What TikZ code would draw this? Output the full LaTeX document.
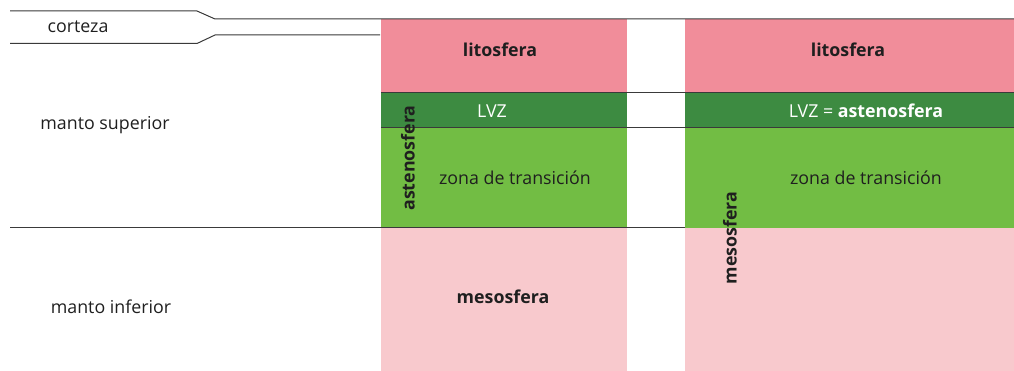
\documentclass[tikz,border=0pt]{standalone}
\usepackage{fontspec}
\setmainfont{Open Sans}
\definecolor{lito}{HTML}{F18D9A}
\definecolor{lvz}{HTML}{3D8B41}
\definecolor{trans}{HTML}{72BD44}
\definecolor{meso}{HTML}{F8C9CD}
\definecolor{ln}{HTML}{3A3A3A}
\begin{document}
\begin{tikzpicture}[x=1pt,y=-1pt,
  lbl/.style={inner sep=0pt,text=black!88,font=\fontsize{17.8}{20}\selectfont},
  blbl/.style={lbl,font=\fontsize{17.8}{20}\selectfont\bfseries},
  sep/.style={draw=ln,line width=1pt}]
\useasboundingbox (0,0) rectangle (1014,371);
\fill[white] (0,0) rectangle (1014,371);
% layers left column
\fill[lito] (381,19) rectangle (627,93);
\fill[lvz] (381,93) rectangle (627,128);
\fill[trans] (381,128) rectangle (627,228);
\fill[meso] (381,228) rectangle (627,371);
% layers right column
\fill[lito] (685,19) rectangle (1014,93);
\fill[lvz] (685,93) rectangle (1014,128);
\fill[trans] (685,128) rectangle (1014,228);
\fill[meso] (685,228) rectangle (1014,371);
% crust lines
\coordinate (c1) at (10,11);
\coordinate (c2) at (197,11);
\coordinate (c3) at (215,19);
\coordinate (c4) at (1014,19);
\coordinate (d1) at (10,43.5);
\coordinate (d2) at (197,43.5);
\coordinate (d3) at (215,35);
\coordinate (d4) at (380,35);
\draw[sep] (c1) -- (c2) -- (c3) -- (c4);
\draw[sep] (d1) -- (d2) -- (d3) -- (d4);
% boundaries
\coordinate (e1) at (381,93);
\coordinate (e2) at (1014,93);
\coordinate (f1) at (381,128);
\coordinate (f2) at (1014,128);
\coordinate (g1) at (10,228);
\coordinate (g2) at (685,228);
\draw[sep] (e1) -- (e2);
\draw[sep] (f1) -- (f2);
\draw[sep] (g1) -- (g2);
% labels left
\node[lbl] (corteza) at (78,27) {corteza};
\node[lbl] (ms) at (105,125) {manto superior};
\node[lbl] (mi) at (111,307) {manto inferior};
\node[blbl] (lit1) at (500,50) {litosfera};
\node[lbl,text=white] (lvz1) at (492,111) {LVZ};
\node[lbl] (zt1) at (515,178) {zona de transición};
\node[blbl] (mes1) at (503,297) {mesosfera};
\node[blbl,rotate=90] (ast1) at (408,158) {astenosfera};
% labels right
\node[blbl] (lit2) at (848,50) {litosfera};
\node[lbl,text=white] (lvz2) at (866,111) {LVZ = \textbf{astenosfera}};
\node[lbl] (zt2) at (866,178) {zona de transición};
\node[blbl,rotate=90] (mes2) at (730,238) {mesosfera};
\end{tikzpicture}
\end{document}
